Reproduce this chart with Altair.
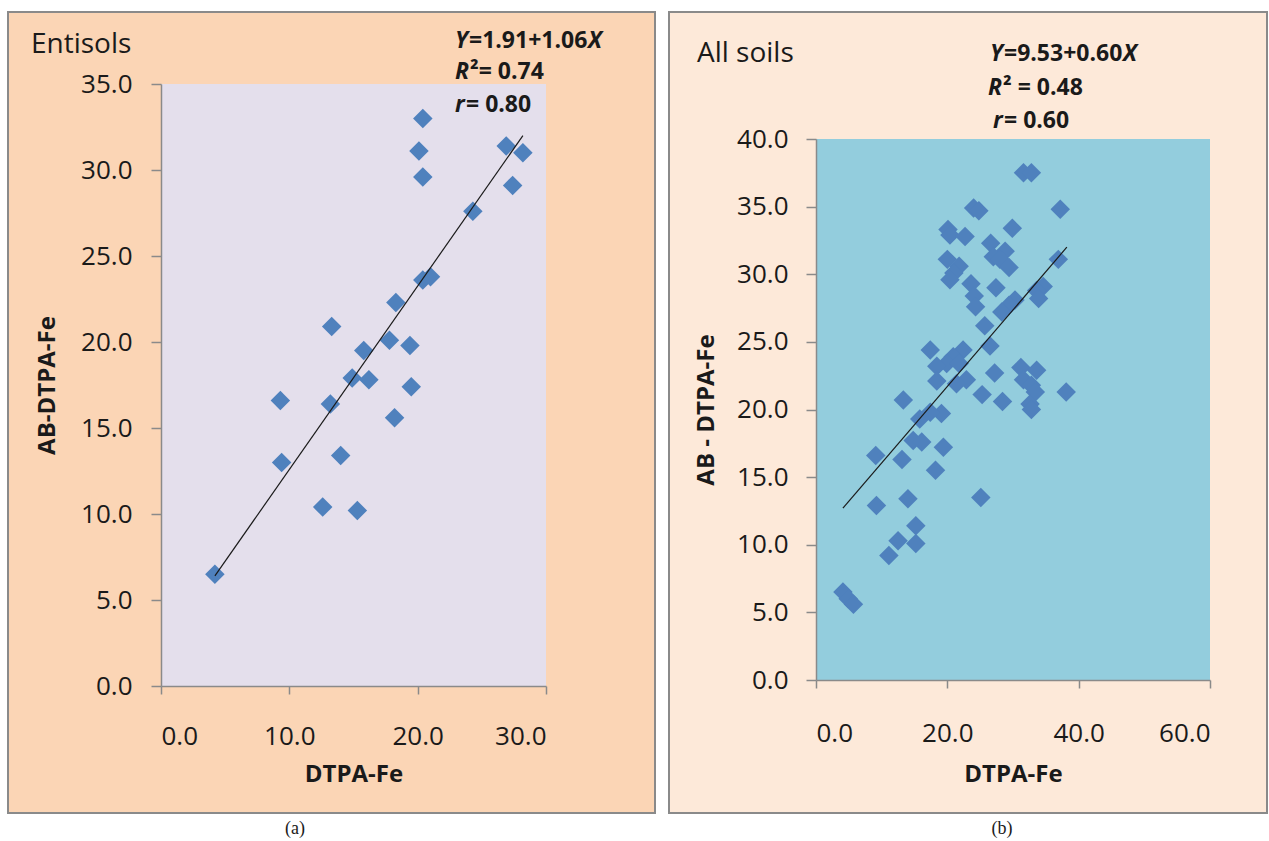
import altair as alt
import pandas as pd

# ---------------- data: (a) Entisols ----------------
ent_dtpa = [4.2, 9.3, 9.4, 12.6, 13.2, 13.3, 14.0, 14.9, 15.3, 15.8, 16.2, 17.8, 18.2,
            18.3, 19.4, 19.5, 20.1, 20.4, 20.4, 20.4, 21.0, 24.3, 26.9, 27.4, 28.2]
ent_ab = [6.5, 16.6, 13.0, 10.4, 16.4, 20.9, 13.4, 17.9, 10.2, 19.5, 17.8, 20.1, 15.6,
          22.3, 19.8, 17.4, 31.1, 33.0, 29.6, 23.6, 23.8, 27.6, 31.4, 29.1, 31.0]
ent_fit_x = [4.2, 28.2]
ent_fit_y = [6.4, 32.0]
ent_x_ticks = [0, 10, 20, 30]
ent_y_ticks = [0, 5, 10, 15, 20, 25, 30, 35]

# ---------------- data: (b) All soils ----------------
all_dtpa = [31.6, 32.8, 24.0, 24.8, 37.2, 29.9, 20.1, 20.4, 22.7, 26.6, 28.8, 27.0, 28.0,
            29.4, 36.9, 20.0, 21.8, 21.0, 20.4, 23.6, 27.4, 24.1, 34.6, 33.6, 33.9, 30.3,
            29.4, 28.3, 24.3, 25.7, 26.5, 17.4, 22.4, 20.9, 19.9, 18.4, 21.8, 31.2, 33.6,
            27.2, 22.9, 21.4, 18.4, 31.6, 32.8, 33.4, 38.1, 25.3, 28.4, 32.6, 32.8, 13.3,
            19.1, 17.4, 15.8, 14.8, 16.1, 19.4, 9.1, 13.1, 18.2, 9.2, 14.0, 25.1, 15.2,
            12.5, 15.2, 11.1, 4.1, 4.9, 5.7]
all_ab = [37.5, 37.5, 34.9, 34.7, 34.8, 33.4, 33.3, 32.9, 32.8, 32.3, 31.7, 31.3, 31.1,
          30.5, 31.1, 31.1, 30.6, 30.1, 29.6, 29.3, 29.0, 28.4, 29.1, 28.8, 28.2, 28.1,
          27.7, 27.2, 27.6, 26.2, 24.7, 24.4, 24.4, 23.9, 23.4, 23.2, 23.4, 23.1, 22.9,
          22.7, 22.2, 21.9, 22.1, 22.2, 21.8, 21.3, 21.3, 21.1, 20.6, 20.4, 20.0, 20.7,
          19.7, 19.8, 19.3, 17.7, 17.6, 17.2, 16.6, 16.3, 15.5, 12.9, 13.4, 13.5, 11.4,
          10.3, 10.1, 9.2, 6.5, 6.0, 5.6]
all_fit_x = [4.1, 38.2]
all_fit_y = [12.7, 32.0]
all_x_ticks = [0, 20, 40, 60]
all_y_ticks = [0, 5, 10, 15, 20, 25, 30, 35, 40]

FONT = "Open Sans"
TXT = "#1a1a1a"
BORDER = "#8a8a8a"
dummy = pd.DataFrame({"d": [0]})


def txt(text, x, y, size=23, weight="bold", style="normal", font=FONT, align="left"):
    return alt.Chart(dummy).mark_text(
        text=text, font=font, fontSize=size, fontWeight=weight, fontStyle=style,
        align=align, baseline="middle", color=TXT,
    ).encode(x=alt.value(x), y=alt.value(y))


def panel(xs, ys, fx, fy, xdom, ydom, xt, yt, W, H, top, outer, outer_fill, plot_fill,
          ytitle, xlabpad, ylabpad, xtitle_y, ytitle_x, texts):
    ox0, ox1, oy0, oy1 = outer
    bg = alt.Chart(dummy).mark_rect(fill=outer_fill, stroke=BORDER, strokeWidth=2).encode(
        x=alt.value(ox0), x2=alt.value(ox1), y=alt.value(oy0), y2=alt.value(oy1))
    plot_bg = alt.Chart(dummy).mark_rect(fill=plot_fill).encode(
        x=alt.value(0), x2=alt.value(W), y=alt.value(top), y2=alt.value(H))
    pts = pd.DataFrame({"x": xs, "y": ys})
    xscale = alt.Scale(domain=xdom, nice=False, zero=False)
    yscale = alt.Scale(domain=ydom, nice=False, zero=False, range=[H, top])
    xaxis = alt.Axis(values=xt, format=".1f", title="DTPA-Fe", grid=False, tickSize=8,
                     labelPadding=xlabpad, titleX=W / 2, titleY=xtitle_y,
                     titleAlign="center", titleBaseline="top", zindex=1)
    yaxis = alt.Axis(values=yt, format=".1f", title=ytitle, grid=False, tickSize=10,
                     labelPadding=ylabpad, titleX=ytitle_x, titleY=(H + top) / 2,
                     titleAlign="center", titleAngle=270, titleBaseline="bottom", zindex=1)
    points = alt.Chart(pts).mark_point(
        shape="diamond", filled=True, size=380, color="#4F81BD", opacity=1
    ).encode(x=alt.X("x:Q", scale=xscale, axis=xaxis),
             y=alt.Y("y:Q", scale=yscale, axis=yaxis))
    fit = alt.Chart(pd.DataFrame({"x": fx, "y": fy})).mark_line(
        color="#1a1a1a", strokeWidth=1.2
    ).encode(x="x:Q", y="y:Q")
    return alt.layer(bg, plot_bg, points, fit, *texts).properties(width=W, height=H)


# left panel: plot area 161..546 x 84..686
W1, H1 = 385, 602
left = panel(
    ent_dtpa, ent_ab, ent_fit_x, ent_fit_y, [0, 30], [0, 35], ent_x_ticks, ent_y_ticks,
    W1, H1, 0, (-153, W1 + 109, -72, H1 + 127), "#FBD5B5", "#E4DFEC", "AB-DTPA-Fe",
    29, 19, 76, -102,
    [
        txt("Entisols", -130, -39, size=28, weight="normal"),
        txt("Y", 294, -43, style="italic"),
        txt("=1.91+1.06", 308, -43),
        txt("X", 427, -43, style="italic"),
        txt("R", 294, -12, style="italic"),
        txt("\u00b2= 0.74", 309, -12),
        txt("r", 294, 21, style="italic"),
        txt("= 0.80", 305, 21),
        txt("(a)", 134, 745, size=18, weight="normal", font="Liberation Serif", align="center"),
    ],
)

# right panel: plot area 816..1210 x 139..680 (origin aligned with left at y=84)
W2, H2, T2 = 394, 596, 55
right = panel(
    all_dtpa, all_ab, all_fit_x, all_fit_y, [0, 60], [0, 40], all_x_ticks, all_y_ticks,
    W2, H2, T2, (-147, W2 + 57, -72, H2 + 133), "#FDE9D9", "#93CDDD", "AB - DTPA-Fe",
    32, 18, 82, -98,
    [
        txt("All soils", -119, -30, size=28, weight="normal"),
        txt("Y", 174, -30, style="italic"),
        txt("=9.53+0.60", 188, -30),
        txt("X", 307, -30, style="italic"),
        txt("R", 172, 4, style="italic"),
        txt("\u00b2 = 0.48", 187, 4),
        txt("r", 177, 37, style="italic"),
        txt("=  0.60", 188, 37),
        txt("(b)", 186, 745, size=18, weight="normal", font="Liberation Serif", align="center"),
    ],
)

chart = alt.hconcat(left, right, spacing=12).properties(
    padding={"left": 7, "top": 11, "right": 0, "bottom": 2},
    background="white",
).configure_view(strokeWidth=0).configure_axis(
    domainColor=BORDER, domainWidth=1.5, tickColor=BORDER, tickWidth=1.5,
    labelFont=FONT, labelFontSize=26, labelColor=TXT,
    titleFont=FONT, titleFontSize=24, titleFontWeight="bold", titleColor=TXT,
)

chart.save("out.html", embed_options={"renderer": "svg", "actions": False})
